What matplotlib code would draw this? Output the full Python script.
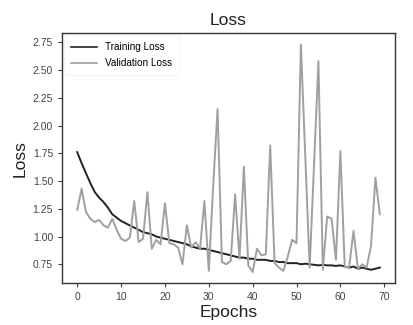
import numpy as np
import matplotlib
matplotlib.use("Agg")
import matplotlib.pyplot as plt

epochs = list(range(70))

train_loss = [1.76, 1.66, 1.57, 1.48, 1.40, 1.35, 1.31, 1.26, 1.20, 1.17,
              1.14, 1.12, 1.10, 1.08, 1.06, 1.04, 1.03, 1.02, 1.00, 0.99,
              0.98, 0.97, 0.96, 0.95, 0.94, 0.93, 0.91, 0.90, 0.89, 0.89,
              0.88, 0.87, 0.86, 0.85, 0.84, 0.83, 0.82, 0.81, 0.81, 0.80,
              0.80, 0.79, 0.79, 0.79, 0.78, 0.78, 0.77, 0.77, 0.76, 0.76,
              0.76, 0.75, 0.755, 0.75, 0.745, 0.74, 0.745, 0.74, 0.74, 0.735,
              0.74, 0.73, 0.72, 0.73, 0.71, 0.72, 0.71, 0.70, 0.71, 0.72]

val_loss = [1.24, 1.43, 1.22, 1.16, 1.13, 1.15, 1.10, 1.08, 1.16, 1.06,
            0.98, 0.96, 0.99, 1.32, 0.95, 0.98, 1.40, 0.89, 0.97, 0.93,
            1.30, 0.94, 0.93, 0.90, 0.75, 1.10, 0.90, 0.95, 0.89, 1.32,
            0.69, 1.45, 2.15, 0.77, 0.75, 0.78, 1.38, 0.80, 1.63, 0.74,
            0.68, 0.89, 0.83, 0.84, 1.82, 0.76, 0.72, 0.69, 0.82, 0.97,
            0.94, 2.73, 1.72, 0.72, 1.65, 2.58, 0.70, 1.18, 1.16, 0.79,
            1.77, 0.73, 0.72, 1.05, 0.71, 0.75, 0.72, 0.92, 1.53, 1.20]

plt.rcParams['font.family'] = ['Liberation Sans', 'DejaVu Sans']

fig = plt.figure(figsize=(4.14, 3.25), dpi=100)
ax = fig.add_axes([0.150, 0.128, 0.804, 0.770])

ax.plot(epochs, train_loss, color="#222222", lw=1.4, label="Training Loss")
ax.plot(epochs, val_loss, color="#a0a0a0", lw=1.4, label="Validation Loss")

ax.set_yticks([0.75, 1.00, 1.25, 1.50, 1.75, 2.00, 2.25, 2.50, 2.75])
ax.set_xticks([0, 10, 20, 30, 40, 50, 60, 70])
ax.tick_params(labelsize=7.5, colors="#444444", length=3, width=0.8)
for s in ax.spines.values():
    s.set_color("#333333")
    s.set_linewidth(1.0)

ax.set_title("Loss", fontsize=12.5, color="#222222")
ax.set_xlabel("Epochs", fontsize=12.5, color="#222222", labelpad=2)
ax.set_ylabel("Loss", fontsize=12.5, color="#222222")

leg = ax.legend(loc="upper left", fontsize=7.2, frameon=True, borderaxespad=0.2,
                handlelength=2.6, labelspacing=0.6, borderpad=0.7)
leg.get_frame().set_edgecolor("#f2f2f2")
leg.get_frame().set_linewidth(0.8)
for line in leg.get_lines():
    line.set_linewidth(1.2)

fig.savefig("out.png", dpi=100)
